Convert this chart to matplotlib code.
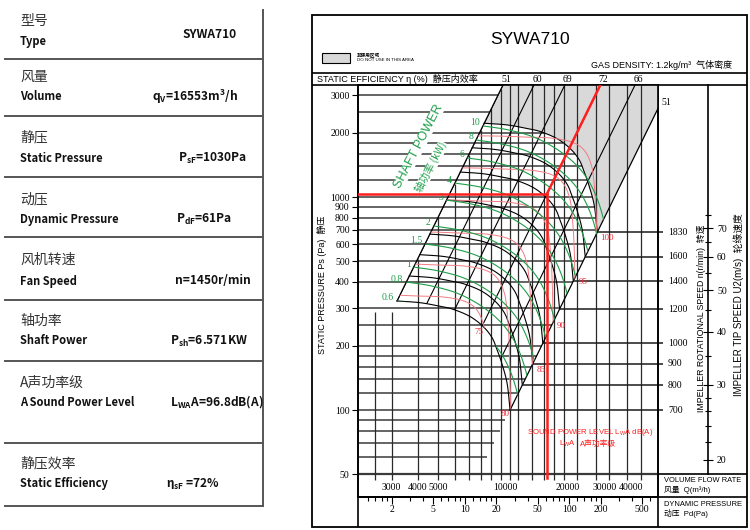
import numpy as np
import matplotlib
matplotlib.use('Agg')
import matplotlib.pyplot as plt
from matplotlib.patches import Polygon, Rectangle
from matplotlib.path import Path
from matplotlib.transforms import blended_transform_factory
from matplotlib.ticker import FixedLocator, NullLocator, NullFormatter

plt.rcParams['font.family'] = ['Liberation Sans', 'Noto Sans CJK SC']
plt.rcParams['mathtext.default'] = 'regular'

SERIF = 'Liberation Serif'
CJK = ['Noto Sans CJK SC', 'DejaVu Sans']
MIX = ['Liberation Sans', 'Noto Sans CJK SC']
GREEN = '#1f9e4a'
PINK = '#f07c82'
RED = '#ff1f1f'

# ---------------- 数据 ----------------
fan_type = 'SYWA710'
op_flow = 16553        # m3/h
op_pressure = 1030     # Pa
op_dyn = 61            # Pa

pressure_ticks = [50, 100, 200, 300, 400, 500, 600, 700, 800, 900, 1000, 2000, 3000]
pressure_grid = [50, 60, 70, 80, 90, 100, 120, 140, 160, 180, 200, 250, 300, 400, 500,
                 600, 700, 800, 900, 1000, 1200, 1400, 1600, 1800, 2000, 2500, 3000]
flow_grid = [2500, 3000, 4000, 5000, 6000, 7000, 8000, 9000, 10000, 11000, 12000, 14000,
             16000, 18000, 20000, 23000, 28500, 33000, 40000, 47000]
flow_labels = [3000, 4000, 5000, 10000, 20000, 30000, 40000]
pd_ticks = [2, 5, 10, 20, 50, 100, 200, 500]
pd_minor = [1.2, 1.4, 1.6, 1.8, 3, 4, 6, 7, 8, 9, 12, 14, 16, 18, 30, 40, 60, 70, 80, 90,
            120, 140, 160, 180, 300, 400, 600]

# 最低转速 700 r/min 的风机曲线
base_q = [3180, 4100, 5100, 5900, 7100, 8200, 9050, 9570, 10100, 10700, 11050]
base_p = [325, 319, 307, 297, 275, 247, 219, 192, 165, 133, 100]
rpm_values = [700, 800, 900, 1000, 1200, 1400, 1600, 1830]
rpm_end_p = [100, 131, 165, 206, 298, 403, 524, 683]

# 静压效率线 (在 3000Pa 处的风量)
eff_labels = [51, 60, 69, 72, 66]
eff_q3000 = [9660, 13600, 19100, 28250, 41400]

# 轴功率线
power_labels = ['0.6', '0.8', '1', '1.5', '2', '3', '4', '6', '8', '10']
power_start_p = [325, 399, 469, 602, 731, 967, 1163, 1526, 1853, 2157]
power_shape_q = [1, 1.32, 1.74, 2.21, 2.70, 3.14, 3.51, 3.79, 4.00, 4.18]
power_shape_p = [1, 0.958, 0.888, 0.788, 0.678, 0.570, 0.459, 0.359, 0.273, 0.198]

# A声功率级线
sound_labels = [75, 80, 85, 90, 95, 100]
sound_top_p = [347, 485, 685, 968, 1369, 1934]
sound_side_q = [8666, 10920, 13915, 17540, 22360, 28480]
sound_shape_q = [0.2, 0.32, 0.467, 0.615, 0.767, 0.876, 0.947, 0.978, 1.0, 1.011, 1.023]
sound_shape_p = [1.0, 1.0, 0.988, 0.977, 0.936, 0.860, 0.738, 0.608, 0.439, 0.285, 0.186]

# 轮缘速度
tip_speed_ticks = [20, 30, 40, 50, 60, 70]
tip_speed_minor = [22, 24, 26, 28, 35, 45, 55, 65, 75]
tip_c = 0.1458   # Pa / (m/s)^2

# 坐标范围
Q_MIN, Q_MAX = 2069, 56390
P_MIN, P_TOP = 39.05, 3356
Q_RPM_END = 59570


def smooth(qs, ps, n=10):
    pts = np.column_stack([np.log10(qs), np.log10(ps)])
    ext = np.vstack([2 * pts[0] - pts[1], pts, 2 * pts[-1] - pts[-2]])
    t = np.linspace(0, 1, n, endpoint=False)[:, None]
    segs = []
    for i in range(1, len(ext) - 2):
        p0, p1, p2, p3 = ext[i - 1], ext[i], ext[i + 1], ext[i + 2]
        segs.append(0.5 * (2 * p1 + (p2 - p0) * t + (2 * p0 - 5 * p1 + 4 * p2 - p3) * t ** 2
                           + (3 * p1 - p0 - 3 * p2 + p3) * t ** 3))
    segs.append(pts[-1:])
    out = np.vstack(segs)
    return 10 ** out[:, 0], 10 ** out[:, 1]


bq, bp = smooth(base_q, base_p)


def fan_curve(pe):
    s = pe / rpm_end_p[0]
    return bq * np.sqrt(s), bp * s


top_q, top_p = fan_curve(rpm_end_p[-1])
k_left = base_p[0] / base_q[0] ** 2
k_right = base_p[-1] / base_q[-1] ** 2


def q_left(p):
    return np.sqrt(p / k_left)


def q_right(p):
    return np.sqrt(p / k_right)


def h_end(p):
    if p <= 50:
        return Q_MAX
    if p <= rpm_end_p[-1]:
        return q_right(p)
    if p <= top_p[0]:
        return np.interp(p, top_p[::-1], top_q[::-1])
    return q_left(p)


def v_top(q):
    if q < base_q[0]:
        return 290
    return min(k_left * q ** 2, P_TOP)


# ---------------- 画布 ----------------
fig = plt.figure(figsize=(7.5, 5.3), dpi=100)
bg = fig.add_axes([0, 0, 1, 1], zorder=0)
bg.set_xlim(0, 750)
bg.set_ylim(530, 0)
bg.axis('off')

ax = fig.add_axes([358 / 750, 33 / 530, 300 / 750, 412 / 530], zorder=1)
ax.set_facecolor('none')
ax.set_xscale('log')
ax.set_yscale('log')
ax.set_xlim(Q_MIN, Q_MAX)
ax.set_ylim(P_MIN, P_TOP)
for sp in ax.spines.values():
    sp.set_linewidth(1.2)
ax.tick_params(axis='x', which='both', bottom=False, labelbottom=False)
ax.set_yticks(pressure_ticks, labels=[str(v) for v in pressure_ticks])
ax.yaxis.set_minor_locator(NullLocator())
ax.tick_params(axis='y', direction='out', length=4, width=0.8, pad=2,
               labelsize=7, labelfontfamily=SERIF)

# 区域
region_q = np.concatenate([[q_left(P_TOP)], bq, [Q_MAX, Q_MAX]])
region_p = np.concatenate([[P_TOP], bp, [k_right * Q_MAX ** 2, P_TOP]])
region_patch = Polygon(np.column_stack([region_q, region_p]), closed=True,
                       transform=ax.transData, facecolor='none', edgecolor='none')
region_path = Path(np.column_stack([np.log10(region_q), np.log10(region_p)]))

grey_q = np.concatenate([[q_left(P_TOP)], top_q, [Q_MAX, Q_MAX]])
grey_p = np.concatenate([[P_TOP], top_p, [k_right * Q_MAX ** 2, P_TOP]])
ax.add_patch(Polygon(np.column_stack([grey_q, grey_p]), closed=True,
                     facecolor='#d9d9d9', edgecolor='none', zorder=0.5))

# 网格线
for p in pressure_grid:
    lw = 1.6 if p == 50 else 1.1
    ax.plot([Q_MIN, h_end(p)], [p, p], color='#3a3a3a', lw=lw, zorder=1,
            solid_capstyle='butt')
for q in flow_grid:
    ax.plot([q, q], [47, v_top(q)], color='#2a2a2a', lw=0.9, zorder=1,
            solid_capstyle='butt')

# 效率线
for lab, q3 in zip(eff_labels, eff_q3000):
    qq = q3 * np.sqrt(np.array([20, P_TOP]) / 3000)
    ln, = ax.plot(qq, [20, P_TOP], color='black', lw=0.8, zorder=2)
    ln.set_clip_path(region_patch)
    ax.annotate(str(lab), (qq[1], P_TOP), xytext=(3, 6), textcoords='offset pixels',
                ha='center', va='center', fontsize=7, family=SERIF, annotation_clip=False)
ax.plot([base_q[0], q_left(P_TOP)], [base_p[0], P_TOP], color='black', lw=0.9, zorder=2)
p_r = k_right * Q_MAX ** 2
ax.plot([base_q[-1], Q_MAX], [base_p[-1], p_r], color='black', lw=0.9, zorder=2)
ax.annotate('51', (Q_MAX, p_r), xytext=(3, 6), textcoords='offset pixels', ha='left',
            va='center', fontsize=7, family=SERIF, annotation_clip=False)

# 转速曲线
tr_rpm = blended_transform_factory(bg.transData, ax.transData)
for n, pe in zip(rpm_values, rpm_end_p):
    fq, fp = fan_curve(pe)
    ax.plot(fq, fp, color='black', lw=0.8, zorder=2)
    ax.plot([q_right(pe), Q_RPM_END], [pe, pe], color='#1a1a1a', lw=1.1, zorder=2,
            clip_on=False, solid_capstyle='butt')
    ax.text(668, pe, str(n), transform=tr_rpm, ha='left', va='center', fontsize=7,
            family=SERIF)

# 轴功率线
for lab, ps in zip(power_labels, power_start_p):
    q0 = q_left(ps)
    gq, gp = smooth(q0 * np.array(power_shape_q), ps * np.array(power_shape_p))
    ln, = ax.plot(gq, gp, color=GREEN, lw=0.8, zorder=2.5)
    ln.set_clip_path(region_patch)
    ax.annotate(lab, (q0, ps), xytext=(-3, 3), textcoords='offset pixels', ha='right',
                va='center', color=GREEN, fontsize=7, family=SERIF)

# 声功率线
for lab, pt, qs in zip(sound_labels, sound_top_p, sound_side_q):
    sq, spp = smooth(qs * np.array(sound_shape_q), pt * np.array(sound_shape_p))
    ln, = ax.plot(sq, spp, color=PINK, lw=0.7, zorder=2.4)
    ln.set_clip_path(region_patch)
    inside = region_path.contains_points(np.column_stack([np.log10(sq), np.log10(spp)]))
    idx = np.where(inside)[0][-1]
    if lab <= 80:
        ax.annotate(str(lab), (sq[idx], spp[idx]), xytext=(-1, -2), textcoords='offset pixels',
                    ha='right', va='top', color='#e8303a', fontsize=6.5, family=SERIF)
    else:
        ax.annotate(str(lab), (sq[idx], spp[idx]), xytext=(4, -2), textcoords='offset pixels',
                    ha='left', va='top', color='#e8303a', fontsize=6.5, family=SERIF)

# 工况点
q_red_top = op_flow * np.sqrt(P_TOP / op_pressure)
ax.plot([Q_MIN, op_flow], [op_pressure, op_pressure], color=RED, lw=1.8, zorder=5)
ax.plot([op_flow, op_flow], [op_pressure, 48], color=RED, lw=1.8, zorder=5)
ax.plot([op_flow, q_red_top], [op_pressure, P_TOP], color=RED, lw=1.8, zorder=5)

# 风量标签
tr_flow = blended_transform_factory(ax.transData, bg.transData)
for q in flow_labels:
    ax.annotate(str(q), (q, 487), xycoords=tr_flow, xytext=(4 if q >= 10000 else 0, 0),
                textcoords='offset pixels', ha='center', va='center', fontsize=7,
                family=SERIF, annotation_clip=False)

# 动压坐标
sec_pd = ax.secondary_xaxis('bottom', functions=(
    lambda q: op_dyn * (np.asarray(q, float) / op_flow) ** 2,
    lambda d: op_flow * np.sqrt(np.clip(np.asarray(d, float), 1e-9, None) / op_dyn)))
sec_pd.set_xticks(pd_ticks, labels=[str(v) for v in pd_ticks])
sec_pd.xaxis.set_minor_locator(FixedLocator(pd_minor))
sec_pd.xaxis.set_minor_formatter(NullFormatter())
sec_pd.tick_params(which='major', direction='out', length=5, width=0.8, pad=1,
                   labelsize=7, labelfontfamily=SERIF)
sec_pd.tick_params(which='minor', direction='out', length=3, width=0.8)
sec_pd.spines['bottom'].set_linewidth(1.2)

# 轮缘速度坐标
sec_tip = ax.secondary_yaxis((708 - 358) / 300, functions=(
    lambda p: np.sqrt(np.clip(np.asarray(p, float), 1e-9, None) / tip_c),
    lambda u: tip_c * np.asarray(u, float) ** 2))
sec_tip.set_yticks(tip_speed_ticks, labels=[str(v) for v in tip_speed_ticks])
sec_tip.yaxis.set_minor_locator(FixedLocator(tip_speed_minor))
sec_tip.yaxis.set_minor_formatter(NullFormatter())
sec_tip.tick_params(which='major', direction='inout', length=7, width=0.8, pad=3,
                    labelsize=7, labelfontfamily=SERIF)
sec_tip.tick_params(which='minor', direction='inout', length=4, width=0.8)
for sp in sec_tip.spines.values():
    sp.set_linewidth(1.2)
sec_tip.spines['right'].set_bounds(np.sqrt(50 / tip_c), np.sqrt(P_TOP / tip_c))

# 文字
ax.text(419, 146, 'SHAFT POWER', transform=bg.transData, rotation=62.5, ha='center',
        va='center', color=GREEN, fontsize=9.2, family=MIX, zorder=3,
        bbox=dict(facecolor='white', edgecolor='none', pad=0.0), clip_on=False)
ax.text(431, 167, '轴功率 (kW)', transform=bg.transData, rotation=62.5, ha='center',
        va='center', color=GREEN, fontsize=7.5, family=CJK, zorder=3.1, clip_on=False,
        bbox=dict(facecolor='white', edgecolor='none', pad=0.0))
ax.text(590, 432, 'SOUND POWER LEVEL L$_{W}$A dB(A)', transform=bg.transData, ha='center',
        va='center', color=RED, fontsize=5.6, family='Liberation Sans', clip_on=False)
ax.text(576, 444, 'L$_{W}$A', transform=bg.transData, ha='right',
        va='center', color=RED, fontsize=5.6, family='Liberation Sans', clip_on=False)
ax.text(580, 444, 'A声功率级', transform=bg.transData, ha='left',
        va='center', color=RED, fontsize=5.6, family=MIX, clip_on=False)

# 外框
K = dict(color='black', lw=1.2, solid_capstyle='butt')
bg.add_patch(Rectangle((312, 15), 435, 512, fill=False, edgecolor='black', lw=1.3))
bg.plot([312, 747], [73, 73], **K)
bg.plot([312, 747], [85, 85], **K)
bg.plot([358, 358], [85, 527], **K)
bg.plot([658, 658], [85, 527], **K)
bg.plot([658, 747], [474, 474], **K)
bg.plot([358, 747], [497, 497], **K)

bg.text(530, 40, fan_type, ha='center', va='center', fontsize=12.5, family=MIX)
bg.add_patch(Rectangle((322, 53), 28, 10, facecolor='#d9d9d9', edgecolor='black', lw=0.8))
bg.text(357, 55, '非使用区域', ha='left', va='center', fontsize=3.3, family=CJK,
        fontweight='bold')
bg.text(357, 60, 'DO NOT USE IN THIS AREA', ha='left', va='center', fontsize=3.2, family=MIX)
bg.text(732, 65, 'GAS DENSITY: 1.2kg/m³  气体密度', ha='right', va='center', fontsize=6.5,
        family=MIX)
bg.text(317, 79, 'STATIC EFFICIENCY η (%)  静压内效率', ha='left', va='center', fontsize=6.5,
        family=MIX)
bg.text(322, 285, 'STATIC PRESSURE Ps (Pa)  静压', rotation=90, ha='center', va='center',
        fontsize=6.5, family=MIX)
bg.text(701, 318, 'IMPELLER ROTATIONAL SPEED n(r/min)  转速', rotation=90, ha='center',
        va='center', fontsize=6.3, family=MIX)
bg.text(739, 305, 'IMPELLER TIP SPEED U2(m/s)  轮缘速度', rotation=90, ha='center',
        va='center', fontsize=7, family=MIX)
bg.text(664, 480, 'VOLUME FLOW RATE', ha='left', va='center', fontsize=5.4, family=MIX)
bg.text(664, 490, '风量  Q(m³/h)', ha='left', va='center', fontsize=5.6, family=MIX)
bg.text(664, 504, 'DYNAMIC PRESSURE', ha='left', va='center', fontsize=5.4, family=MIX)
bg.text(664, 514, '动压  Pd(Pa)', ha='left', va='center', fontsize=5.6, family=MIX)

# ---------------- 左侧参数表 ----------------
table_zh = ['型号', '风量', '静压', '动压', '风机转速', '轴功率', 'A声功率级', '静压效率']
table_en = ['Type', 'Volume', 'Static Pressure', 'Dynamic Pressure', 'Fan Speed',
            'Shaft Power', 'A Sound Power Level', 'Static Efficiency']
table_val = [fan_type, 'q$_V$=16553m$^3$/h', 'P$_{sF}$=1030Pa', 'P$_{dF}$=61Pa',
             'n=1450r/min', 'P$_{sh}$=6.571KW', 'L$_{WA}$A=96.8dB(A)', 'η$_{sF}$ =72%']
zh_y = [21, 77, 137, 199, 260, 321, 383, 463]
en_y = [42, 97, 158, 219, 281, 341, 402, 484]
val_y = [35, 97, 158, 219, 281, 341, 402, 484]
val_x = [182, 152, 178, 176, 175, 170, 170, 166]

for zh, en, val, y1, y2, y3, x3 in zip(table_zh, table_en, table_val, zh_y, en_y, val_y, val_x):
    bg.text(20, y1, zh, ha='left', va='center', fontsize=10, family=CJK, color='#333333')
    bg.text(20, y2, en, ha='left', va='center', fontsize=8, family=CJK, fontweight='bold',
            color='#111111')
    bg.text(x3, y3, val, ha='left', va='center', fontsize=8.6, family=CJK, fontweight='bold',
            color='#111111')

for y in [59, 116, 177, 237, 300, 361, 443, 506]:
    bg.plot([5, 263], [y, y], color='#555555', lw=1.4)
bg.plot([263, 263], [10, 506], color='#555555', lw=1.4)

fig.savefig('out.png', dpi=100, facecolor='white')
plt.close(fig)
